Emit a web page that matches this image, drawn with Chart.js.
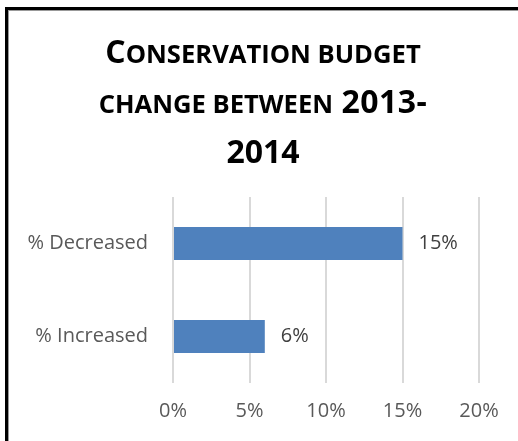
<!DOCTYPE html>
<html>
<head>
<meta charset="utf-8">
<script src="https://cdn.jsdelivr.net/npm/chart.js@4.4.0/dist/chart.umd.min.js"></script>
<style>
  html, body { margin: 0; padding: 0; background: #fff; }
  #frame { position: relative; width: 518px; height: 441px; overflow: hidden; }
  #box {
    position: absolute; left: 5px; top: 7px; width: 540px; height: 470px;
    border-left: 3px solid #000; border-top: 3px solid #000;
    box-shadow: inset 1px 1px 0 #999;
  }
  #title {
    position: absolute; left: 6px; width: 514px; top: 27px;
    text-align: center; color: #000;
    font: bold 32px 'Open Sans', sans-serif; line-height: 47px;
  }
  #title .sc { font-size: 80%; text-transform: uppercase; }
  #title .yr { letter-spacing: 0.5px; }
  canvas { position: absolute; left: 0; top: 0; }
</style>
</head>
<body>
<div id="frame">
  <div id="box"></div>
  <canvas id="budgetChart" width="518" height="441"></canvas>
  <div id="title">C<span class="sc">onservation budget</span><br><span class="sc">change between</span> <span class="yr">2013-</span><br>2014</div>
</div>
<script>
const categories = ['% Decreased', '% Increased'];
const budgetChange = [15, 6];
const axisTicks = [0, 5, 10, 15, 20];

const labelFont = { family: "'Open Sans', sans-serif", size: 20 };

// prints the value just past the end of each bar
const valueLabels = {
  id: 'valueLabels',
  afterDatasetsDraw(chart) {
    const { ctx } = chart;
    const meta = chart.getDatasetMeta(0);
    ctx.save();
    ctx.font = `${labelFont.size}px ${labelFont.family}`;
    ctx.fillStyle = '#404040';
    ctx.textAlign = 'left';
    ctx.textBaseline = 'middle';
    meta.data.forEach((bar, i) => {
      ctx.fillText(`${budgetChange[i]}%`, bar.x + 16, bar.y);
    });
    ctx.restore();
  },
};

function budgetChart() {
  const config = {
    type: 'bar',
    data: {
      labels: categories,
      datasets: [{
        data: budgetChange,
        backgroundColor: '#4f81bd',
        categoryPercentage: 1,
        barPercentage: 0.355,
      }],
    },
    options: {
      indexAxis: 'y',
      responsive: false,
      animation: false,
      layout: { padding: { top: 197, right: 39, bottom: 0, left: 0 } },
      plugins: { legend: { display: false }, tooltip: { enabled: false } },
      scales: {
        x: {
          min: axisTicks[0],
          max: axisTicks[axisTicks.length - 1],
          border: { display: false },
          grid: { color: '#d9d9d9', lineWidth: 2, drawTicks: false },
          ticks: {
            stepSize: axisTicks[1] - axisTicks[0],
            color: '#595959',
            font: labelFont,
            padding: 16,
            callback: (v) => `${v}%`,
          },
          afterFit(scale) {
            scale.height = 58;
            scale.paddingLeft = 0;
            scale.paddingRight = 0;
          },
        },
        y: {
          border: { display: false },
          grid: { display: false, drawTicks: false },
          ticks: { color: '#595959', font: labelFont, padding: 25 },
          afterFit(scale) {
            scale.width = 173;
            scale.paddingTop = 0;
            scale.paddingBottom = 0;
          },
        },
      },
    },
    plugins: [valueLabels],
  };

  return new Chart(document.getElementById('budgetChart'), config);
}

budgetChart();
</script>
</body>
</html>
